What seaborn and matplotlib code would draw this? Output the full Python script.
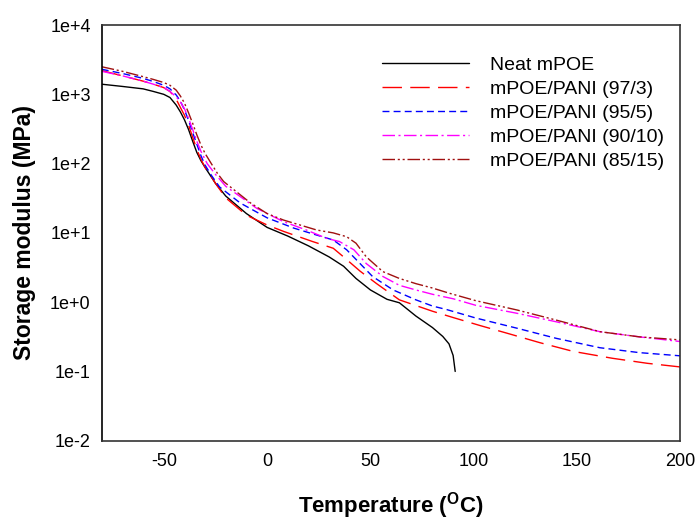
import numpy as np
import pandas as pd
import matplotlib
matplotlib.use("Agg")
import matplotlib.pyplot as plt
import seaborn as sns

sns.set_style("white")
plt.rcParams['font.family'] = ['Liberation Sans', 'DejaVu Sans']
plt.rcParams['mathtext.fontset'] = 'custom'
plt.rcParams['mathtext.rm'] = 'Liberation Sans'
plt.rcParams['mathtext.bf'] = 'Liberation Sans:bold'
plt.rcParams['axes.unicode_minus'] = False
plt.rcParams['text.color'] = 'black'

# Storage modulus (MPa) vs temperature (C)
neat_x = [-80, -70, -60, -55, -50, -47, -44, -42, -40, -38, -36, -34, -32, -30, -25, -20, -10, 0, 10, 20, 30, 37, 43, 50, 58, 64, 72, 80, 85, 88, 90, 91]
neat_y = [1400, 1300, 1200, 1100, 1000, 900, 700, 560, 430, 310, 210, 145, 110, 88, 52, 34, 19, 12, 9.0, 6.5, 4.5, 3.3, 2.2, 1.5, 1.1, 0.98, 0.63, 0.43, 0.32, 0.25, 0.17, 0.10]

p97_x = [-80, -70, -60, -55, -50, -47, -44, -42, -40, -38, -36, -34, -32, -30, -27, -25, -20, -10, 0, 8, 22, 32, 37, 45, 53, 64, 80, 90, 103, 117, 132, 148, 167, 184, 200]
p97_y = [2200, 1850, 1550, 1400, 1250, 1100, 850, 650, 500, 360, 240, 160, 115, 88, 65, 52, 32, 18, 13, 10.5, 7.5, 6.0, 4.5, 2.8, 1.85, 1.08, 0.74, 0.6, 0.46, 0.35, 0.26, 0.195, 0.155, 0.131, 0.116]

p95_x = [-80, -70, -60, -55, -50, -47, -44, -42, -40, -38, -36, -34, -32, -30, -27, -23, -13, 0, 13, 24, 32, 38.5, 45, 51, 61, 72, 80, 87, 101, 121, 140, 161, 180, 200]
p95_y = [2300, 2000, 1700, 1530, 1350, 1200, 980, 800, 600, 420, 280, 190, 130, 95, 68, 46, 27, 16.5, 11.7, 9.3, 7.9, 5.7, 3.6, 2.35, 1.5, 1.08, 0.88, 0.78, 0.59, 0.42, 0.30, 0.22, 0.187, 0.168]

p90_x = [-80, -70, -60, -55, -50, -47, -44, -42, -40, -38, -36, -34, -32, -29, -25, -20, -5, 8, 19, 29, 35, 42, 48, 56, 64, 72, 80, 90, 101, 121, 140, 161, 180, 200]
p90_y = [2150, 1850, 1550, 1400, 1250, 1100, 920, 780, 620, 450, 310, 210, 150, 100, 70, 47, 22.6, 14.5, 11, 8.3, 7.5, 5.7, 3.6, 2.35, 1.75, 1.5, 1.3, 1.12, 0.9, 0.69, 0.52, 0.375, 0.316, 0.27]

p85_x = [-80, -70, -60, -55, -50, -47, -44, -42, -40, -38, -36, -34, -32, -30, -27, -24, -21, -8, 0, 8, 24, 32, 38.5, 43, 48, 56, 64, 72, 80, 88, 101, 121, 140, 161, 180, 200]
p85_y = [2500, 2150, 1800, 1640, 1480, 1350, 1150, 950, 750, 540, 380, 260, 185, 140, 100, 72, 55, 27, 19, 15.3, 11, 10, 8.8, 7.1, 4.5, 2.76, 2.2, 1.85, 1.6, 1.35, 1.05, 0.77, 0.55, 0.375, 0.316, 0.285]

labels = ['Neat mPOE', 'mPOE/PANI (97/3)', 'mPOE/PANI (95/5)', 'mPOE/PANI (90/10)', 'mPOE/PANI (85/15)']
series = [(neat_x, neat_y), (p97_x, p97_y), (p95_x, p95_y), (p90_x, p90_y), (p85_x, p85_y)]

frames = []
for lab, (xs, ys) in zip(labels, series):
    frames.append(pd.DataFrame({'T': xs, 'E': ys, 'sample': lab}))
df = pd.concat(frames, ignore_index=True)

palette = dict(zip(labels, ['black', '#FF0000', '#0000FF', '#FF00FF', '#A01010']))
dashes = dict(zip(labels, ['', (14, 6), (5, 3), (9, 2.5, 1.5, 2.5), (9, 2, 1.5, 2, 1.5, 2)]))

fig, ax = plt.subplots(figsize=(6.97, 5.22), dpi=100)
fig.subplots_adjust(left=0.146, right=0.9763, top=0.952, bottom=0.1557)

sns.lineplot(data=df, x='T', y='E', hue='sample', style='sample', palette=palette,
             dashes=dashes, hue_order=labels, style_order=labels, linewidth=1.0,
             sort=False, estimator=None, ax=ax)

ax.set_yscale('log')
ax.set_xlim(-80, 200)
ax.set_ylim(1e-2, 1e4)
ax.set_xticks([-50, 0, 50, 100, 150, 200])
ax.set_xticks(np.arange(-70, 200, 10), minor=True)
ax.set_yticks([1e-2, 1e-1, 1e0, 1e1, 1e2, 1e3, 1e4])
ax.set_yticklabels(['1e-2', '1e-1', '1e+0', '1e+1', '1e+2', '1e+3', '1e+4'])
ax.yaxis.set_minor_locator(matplotlib.ticker.NullLocator())

ax.tick_params(axis='both', which='major', direction='in', length=5, width=1,
               labelsize=13, color='#333333', labelcolor='black')
ax.tick_params(axis='x', which='major', pad=9)
ax.tick_params(axis='y', which='major', pad=8)
ax.tick_params(axis='x', which='minor', direction='in', length=3, width=1, color='#333333')

for s in ax.spines.values():
    s.set_linewidth(1.2)
    s.set_color('#333333')
ax.spines['left'].set_color('black')

ax.set_xlabel(r'Temperature ($^{\mathbf{O}}$C)', fontsize=16, fontweight='bold',
              labelpad=14, color='black')
ax.set_ylabel('Storage modulus (MPa)', fontsize=16.5, fontweight='bold',
              labelpad=10, color='black')

handles, labs = ax.get_legend_handles_labels()
ax.legend(handles, labs, loc='upper left', bbox_to_anchor=(0.4838, 0.9254), frameon=False,
          fontsize=14, handlelength=4.5, handletextpad=1.05, labelspacing=0.33,
          borderpad=0, borderaxespad=0)

fig.savefig('out.png', dpi=100)
